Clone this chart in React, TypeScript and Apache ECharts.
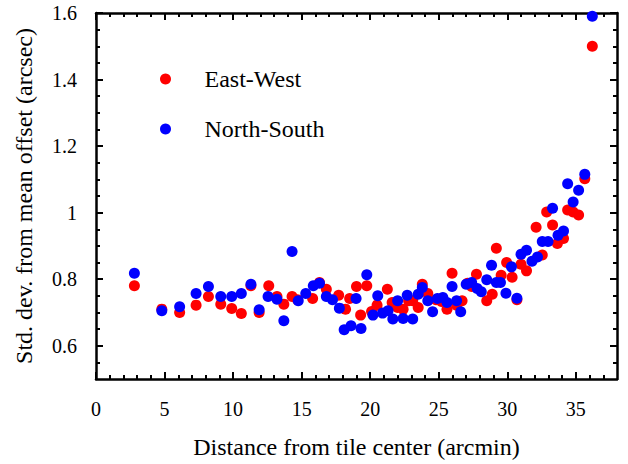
import React, { useEffect, useRef } from "react";
import * as echarts from "echarts";

// East-West: [distance (arcmin), std dev (arcsec)]
const eastWest: [number, number][] = [
  [2.8, 0.78], [4.8, 0.71], [6.1, 0.7], [7.3, 0.722], [8.2, 0.748], [9.1, 0.725],
  [9.9, 0.712], [10.6, 0.697], [11.3, 0.78], [11.9, 0.7], [12.6, 0.78], [13.2, 0.748],
  [13.7, 0.725], [14.3, 0.748], [14.7, 0.738], [15.8, 0.742], [16.3, 0.79], [16.8, 0.77],
  [17.7, 0.752], [18.2, 0.71], [18.5, 0.742], [19.0, 0.778], [19.3, 0.692], [19.75, 0.78],
  [20.1, 0.703], [20.5, 0.722], [21.25, 0.77], [21.6, 0.73], [22.0, 0.715], [22.4, 0.71],
  [22.8, 0.735], [23.1, 0.735], [23.5, 0.715], [23.8, 0.785], [24.2, 0.757], [24.8, 0.738],
  [25.2, 0.733], [25.6, 0.71], [25.97, 0.818], [26.3, 0.722], [26.7, 0.735], [27.1, 0.788],
  [27.4, 0.778], [27.75, 0.815], [28.5, 0.735], [28.9, 0.755], [29.2, 0.893], [29.55, 0.812],
  [29.95, 0.85], [30.35, 0.806], [30.7, 0.738], [31.0, 0.845], [31.4, 0.825], [32.1, 0.956],
  [32.55, 0.873], [32.87, 1.002], [33.3, 0.963], [33.65, 0.907], [34.1, 0.922], [34.4, 1.008],
  [34.8, 1.002], [35.2, 0.993], [35.65, 1.102], [36.2, 1.5],
];

// North-South: [distance (arcmin), std dev (arcsec)]
const northSouth: [number, number][] = [
  [2.8, 0.818], [4.8, 0.705], [6.1, 0.717], [7.3, 0.757], [8.2, 0.778], [9.1, 0.748],
  [9.9, 0.748], [10.6, 0.757], [11.3, 0.785], [11.9, 0.708], [12.55, 0.748], [13.2, 0.74],
  [13.7, 0.675], [14.3, 0.883], [14.75, 0.735], [15.3, 0.757], [15.85, 0.78], [16.3, 0.788],
  [16.8, 0.748], [17.25, 0.738], [17.75, 0.713], [18.1, 0.648], [18.6, 0.66], [18.97, 0.742],
  [19.33, 0.652], [19.75, 0.813], [20.2, 0.692], [20.55, 0.75], [20.9, 0.698], [21.3, 0.705],
  [21.65, 0.68], [22.0, 0.735], [22.4, 0.682], [22.7, 0.752], [23.1, 0.68], [23.5, 0.755],
  [23.8, 0.775], [24.2, 0.735], [24.55, 0.702], [24.9, 0.742], [25.3, 0.745], [25.6, 0.73],
  [25.97, 0.778], [26.3, 0.735], [26.6, 0.702], [27.0, 0.785], [27.4, 0.79], [27.8, 0.772],
  [28.1, 0.762], [28.5, 0.798], [28.85, 0.842], [29.2, 0.79], [29.5, 0.79], [29.9, 0.758],
  [30.3, 0.837], [30.7, 0.743], [31.0, 0.875], [31.4, 0.887], [31.8, 0.854], [32.2, 0.867],
  [32.55, 0.913], [32.97, 0.913], [33.3, 1.013], [33.7, 0.932], [34.1, 0.945], [34.4, 1.087],
  [34.8, 1.032], [35.2, 1.067], [35.65, 1.115], [36.2, 1.59],
];

const xMajorTicks = [0, 5, 10, 15, 20, 25, 30, 35];
const xMinorTicks = [1, 2, 3, 4, 6, 7, 8, 9, 11, 12, 13, 14, 16, 17, 18, 19, 21, 22, 23, 24, 26, 27, 28, 29, 31, 32, 33, 34, 36, 37];
const yMajorTicks = [0.6, 0.8, 1, 1.2, 1.4, 1.6];
const yMinorTicks = [0.55, 0.65, 0.7, 0.75, 0.85, 0.9, 0.95, 1.05, 1.1, 1.15, 1.25, 1.3, 1.35, 1.45, 1.5, 1.55];

const FONT = "Liberation Serif";

export default function App() {
  const ref = useRef<HTMLDivElement>(null);
  useEffect(() => {
    if (!ref.current) return;
    const chart = echarts.init(ref.current, undefined, { renderer: "svg" });
    const lineStyle = { color: "#000", width: 2.5 };
    const mkX = (position: "bottom" | "top", major: boolean, withLine: boolean, withLabel: boolean) => ({
      type: "value",
      position,
      min: 0,
      max: 38,
      axisLine: { show: withLine, onZero: false, lineStyle },
      axisTick: {
        show: true,
        inside: true,
        length: major ? 7 : 4,
        lineStyle: { color: "#000", width: 2 },
        customValues: major ? xMajorTicks : xMinorTicks,
      },
      axisLabel: withLabel
        ? { show: true, customValues: xMajorTicks, fontFamily: FONT, fontSize: 20, color: "#000", margin: 20 }
        : { show: false },
      splitLine: { show: false },
      ...(withLabel
        ? {
            name: "Distance from tile center (arcmin)",
            nameLocation: "middle",
            nameGap: 56,
            nameTextStyle: { fontFamily: FONT, fontSize: 24, color: "#000" },
          }
        : {}),
    });
    const mkY = (position: "left" | "right", major: boolean, withLine: boolean, withLabel: boolean) => ({
      type: "value",
      position,
      min: 0.5,
      max: 1.6,
      axisLine: { show: withLine, onZero: false, lineStyle },
      axisTick: {
        show: true,
        inside: true,
        length: major ? 7 : 4,
        lineStyle: { color: "#000", width: 2 },
        customValues: major ? yMajorTicks : yMinorTicks,
      },
      axisLabel: withLabel
        ? { show: true, customValues: yMajorTicks, fontFamily: FONT, fontSize: 20, color: "#000", margin: 19 }
        : { show: false },
      splitLine: { show: false },
      ...(withLabel
        ? {
            name: "Std. dev. from mean offset (arcsec)",
            nameLocation: "middle",
            nameGap: 60,
            nameTextStyle: { fontFamily: FONT, fontSize: 24, color: "#000" },
          }
        : {}),
    });
    chart.setOption({
      animation: false,
      backgroundColor: "#fff",
      textStyle: { fontFamily: FONT },
      grid: { left: 96, right: 11, top: 13, bottom: 84, containLabel: false },
      xAxis: [
        mkX("bottom", true, true, true),
        mkX("bottom", false, false, false),
        mkX("top", true, true, false),
        mkX("top", false, false, false),
      ],
      yAxis: [
        mkY("left", true, true, true),
        mkY("left", false, false, false),
        mkY("right", true, true, false),
        mkY("right", false, false, false),
      ],
      legend: {
        orient: "vertical",
        left: 155,
        top: 62,
        itemWidth: 68,
        itemHeight: 11,
        itemGap: 26,
        icon: "circle",
        textStyle: { fontFamily: FONT, fontSize: 24, color: "#000" },
        data: ["East-West", "North-South"],
      },
      series: [
        {
          name: "East-West",
          type: "scatter",
          data: eastWest,
          symbolSize: 11,
          itemStyle: { color: "#ff0000", opacity: 1 },
          xAxisIndex: 0,
          yAxisIndex: 0,
        },
        {
          name: "North-South",
          type: "scatter",
          data: northSouth,
          symbolSize: 11,
          itemStyle: { color: "#0000ff", opacity: 1 },
          xAxisIndex: 0,
          yAxisIndex: 0,
        },
      ],
    });
    return () => chart.dispose();
  }, []);
  return <div ref={ref} style={{ width: 628, height: 464, position: "absolute", left: 0, top: 0 }} />;
}
